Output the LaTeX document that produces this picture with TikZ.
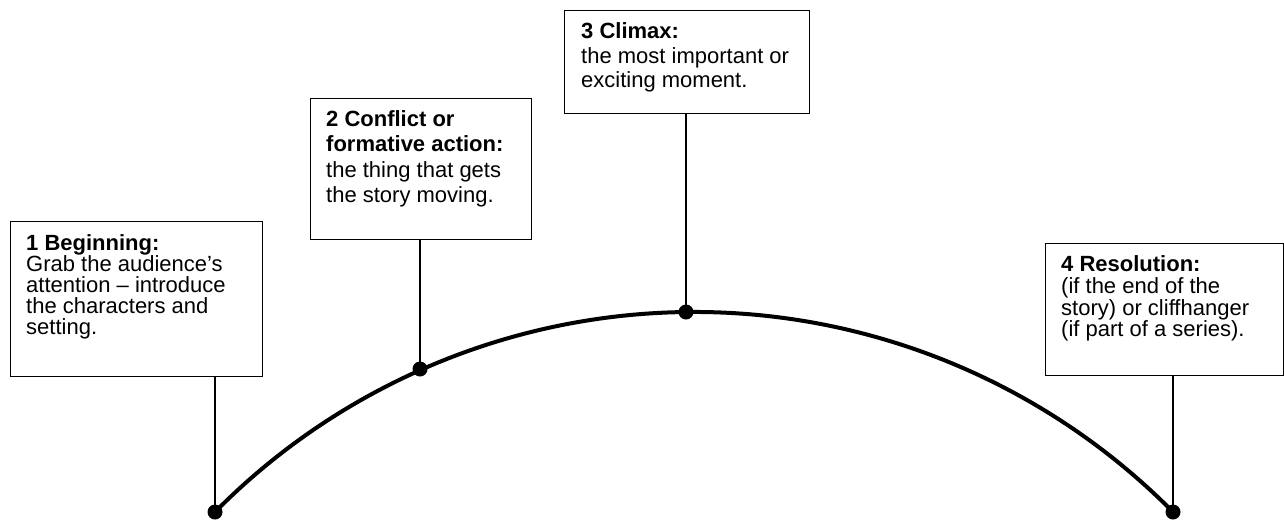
\documentclass[tikz,border=0pt]{standalone}
\usepackage{fontspec}
\setmainfont{Liberation Sans}
\newcommand\stagelines[2]{\vtop{\baselineskip=#1pt\lineskip=0pt\lineskiplimit=-100pt #2}}
\begin{document}
\begin{tikzpicture}[x=1pt,y=-1pt,
  stagebox/.style={draw, line width=1.4pt, rectangle, inner sep=0pt, anchor=north west},
  stagetext/.style={anchor=base west, inner sep=0pt, font=\fontsize{22}{22}\selectfont},
  link/.style={line width=1.2pt},
  storyline/.style={line width=4pt},
  stagedot/.style={circle, fill=black, inner sep=0pt, minimum size=15pt}]
\useasboundingbox (0,0) rectangle (1284,520);

% boxes
\node[stagebox, minimum width=252pt, minimum height=155pt] (b1) at (10,221) {};
\node[stagebox, minimum width=221pt, minimum height=141pt] (b2) at (310,98) {};
\node[stagebox, minimum width=245pt, minimum height=103pt] (b3) at (564,10) {};
\node[stagebox, minimum width=238pt, minimum height=132pt] (b4) at (1045,243) {};

% texts
\node[stagetext] (t1) at (26,250) {\stagelines{21}{\hbox{\textbf{1 Beginning:}}\hbox{Grab the audience’s}\hbox{attention – introduce}\hbox{the characters and}\hbox{setting.}}};
\node[stagetext] (t2) at (326,126) {\stagelines{25.5}{\hbox{\textbf{2 Conflict or}}\hbox{\textbf{formative action:}}\hbox{the thing that gets}\hbox{the story moving.}}};
\node[stagetext] (t3) at (581,38.5) {\stagelines{24.5}{\hbox{\textbf{3 Climax:}}\hbox{the most important or}\hbox{exciting moment.}}};
\node[stagetext] (t4) at (1061,271.7) {\stagelines{21.7}{\hbox{\textbf{4 Resolution:}}\hbox{(if the end of the}\hbox{story) or cliffhanger}\hbox{(if part of a series).}}};

% points on the story arc
\coordinate (p1) at (215,512);
\coordinate (p2) at (420,369);
\coordinate (p3) at (686,312);
\coordinate (p4) at (1173,512);

% the story arc
\draw[storyline] (p1) arc[start angle=135.33, end angle=44.67, radius=673.6pt];

% connectors
\draw[link] (b1.south -| p1) -- (p1);
\draw[link] (b2.south -| p2) -- (p2);
\draw[link] (b3.south -| p3) -- (p3);
\draw[link] (b4.south -| p4) -- (p4);

% dots
\node[stagedot] (d1) at (p1) {};
\node[stagedot] (d2) at (p2) {};
\node[stagedot] (d3) at (p3) {};
\node[stagedot] (d4) at (p4) {};
\end{tikzpicture}
\end{document}
